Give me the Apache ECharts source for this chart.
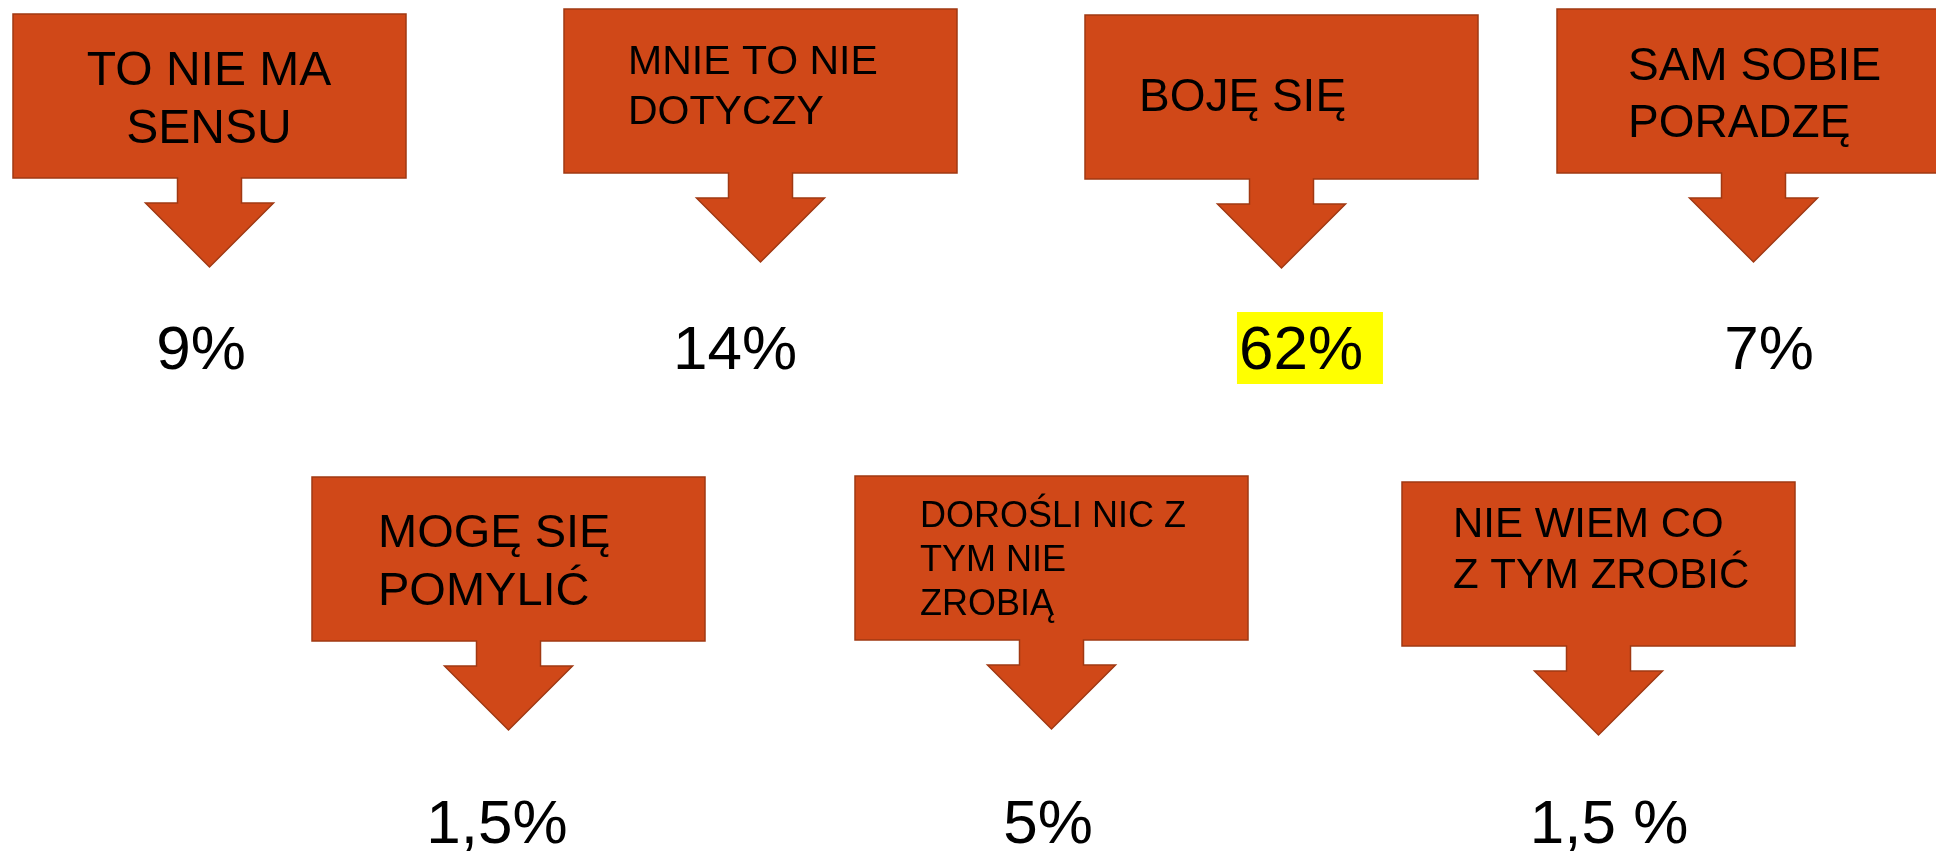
<!DOCTYPE html>
<html>
<head>
<meta charset="utf-8">
<style>
  html, body { margin: 0; padding: 0; background: #ffffff; }
  #chart { width: 1936px; height: 851px; }
</style>
<script src="https://cdn.jsdelivr.net/npm/echarts@6/dist/echarts.min.js"></script>
</head>
<body>
<div id="chart"></div>
<script>
// ---- data ----
const categories = [
  'TO NIE MA\nSENSU',
  'MNIE TO NIE\nDOTYCZY',
  'BOJĘ SIĘ',
  'SAM SOBIE\nPORADZĘ',
  'MOGĘ SIĘ\nPOMYLIĆ',
  'DOROŚLI NIC Z\nTYM NIE\nZROBIĄ',
  'NIE WIEM CO\nZ TYM ZROBIĆ'
];
const values = [9, 14, 62, 7, 1.5, 5, 1.5];
const valueLabels = ['9%', '14%', '62%', '7%', '1,5%', '5%', '1,5 %'];

// ---- layout (positions / sizes only) ----
const layout = [
  { x: 13,   y: 14,  align: 'center', tx: 209,  fs: 48, b0: 86,  gap: 58, px: 201,  pb: 371 },
  { x: 564,  y: 9,   align: 'left',   tx: 628,  fs: 41, b0: 75,  gap: 50, px: 735,  pb: 371 },
  { x: 1085, y: 15,  align: 'left',   tx: 1139, fs: 46, b0: 112, gap: 0,  px: 1301, pb: 371 },
  { x: 1557, y: 9,   align: 'left',   tx: 1628, fs: 46, b0: 81,  gap: 57, px: 1769, pb: 371 },
  { x: 312,  y: 477, align: 'left',   tx: 378,  fs: 47, b0: 548, gap: 58, px: 497,  pb: 845 },
  { x: 855,  y: 476, align: 'left',   tx: 920,  fs: 36, b0: 528, gap: 44, px: 1048, pb: 845 },
  { x: 1402, y: 482, align: 'left',   tx: 1453, fs: 42, b0: 538, gap: 51, px: 1609, pb: 845 }
];
const BOX_W = 393, BOX_H = 164;
const STEM_HALF = 32, STEM_LEN = 25, HEAD_HALF = 64, HEAD_LEN = 64;
const PCT_FS = 62;
const FILL = '#D04818', STROKE = '#A03812';
const FONT = '"Liberation Sans", Arial, sans-serif';
const ASC_MID = 0.30; // distance from alphabetic baseline to line middle (em)

const maxIdx = values.indexOf(Math.max.apply(null, values));

const chart = echarts.init(document.getElementById('chart'), null, { renderer: 'canvas' });

function renderItem(params, api) {
  const i = api.value(0);
  const L = layout[i];
  const x0 = L.x, y0 = L.y, x1 = L.x + BOX_W, y1 = L.y + BOX_H;
  const cx = (x0 + x1) / 2;
  const pts = [
    [x0, y0], [x1, y0], [x1, y1],
    [cx + STEM_HALF, y1], [cx + STEM_HALF, y1 + STEM_LEN],
    [cx + HEAD_HALF, y1 + STEM_LEN], [cx, y1 + STEM_LEN + HEAD_LEN],
    [cx - HEAD_HALF, y1 + STEM_LEN], [cx - STEM_HALF, y1 + STEM_LEN],
    [cx - STEM_HALF, y1], [x0, y1]
  ];
  const children = [{
    type: 'polygon',
    shape: { points: pts },
    style: { fill: FILL, stroke: STROKE, lineWidth: 1.5 }
  }];
  const lines = categories[i].split('\n');
  lines.forEach(function (ln, k) {
    const base = L.b0 + k * L.gap;
    children.push({
      type: 'text',
      x: L.tx,
      y: base - ASC_MID * L.fs,
      style: {
        text: ln,
        fill: '#000000',
        font: L.fs + 'px ' + FONT,
        align: L.align,
        verticalAlign: 'middle'
      }
    });
  });
  if (i === maxIdx) {
    const tw = (0.556 * 2 + 0.889) * PCT_FS;
    const left = L.px - tw / 2;
    children.push({
      type: 'rect',
      shape: { x: left - 2, y: L.pb - 59, width: 146, height: 72 },
      style: { fill: '#FFFF00' }
    });
  }
  children.push({
    type: 'text',
    x: L.px,
    y: L.pb - ASC_MID * PCT_FS,
    style: {
      text: valueLabels[i],
      fill: '#000000',
      font: PCT_FS + 'px ' + FONT,
      align: 'center',
      verticalAlign: 'middle'
    }
  });
  return { type: 'group', children: children };
}

chart.setOption({
  backgroundColor: '#ffffff',
  animation: false,
  series: [{
    type: 'custom',
    coordinateSystem: 'none',
    renderItem: renderItem,
    data: values.map(function (v, i) { return [i, v]; })
  }]
});
</script>
</body>
</html>
